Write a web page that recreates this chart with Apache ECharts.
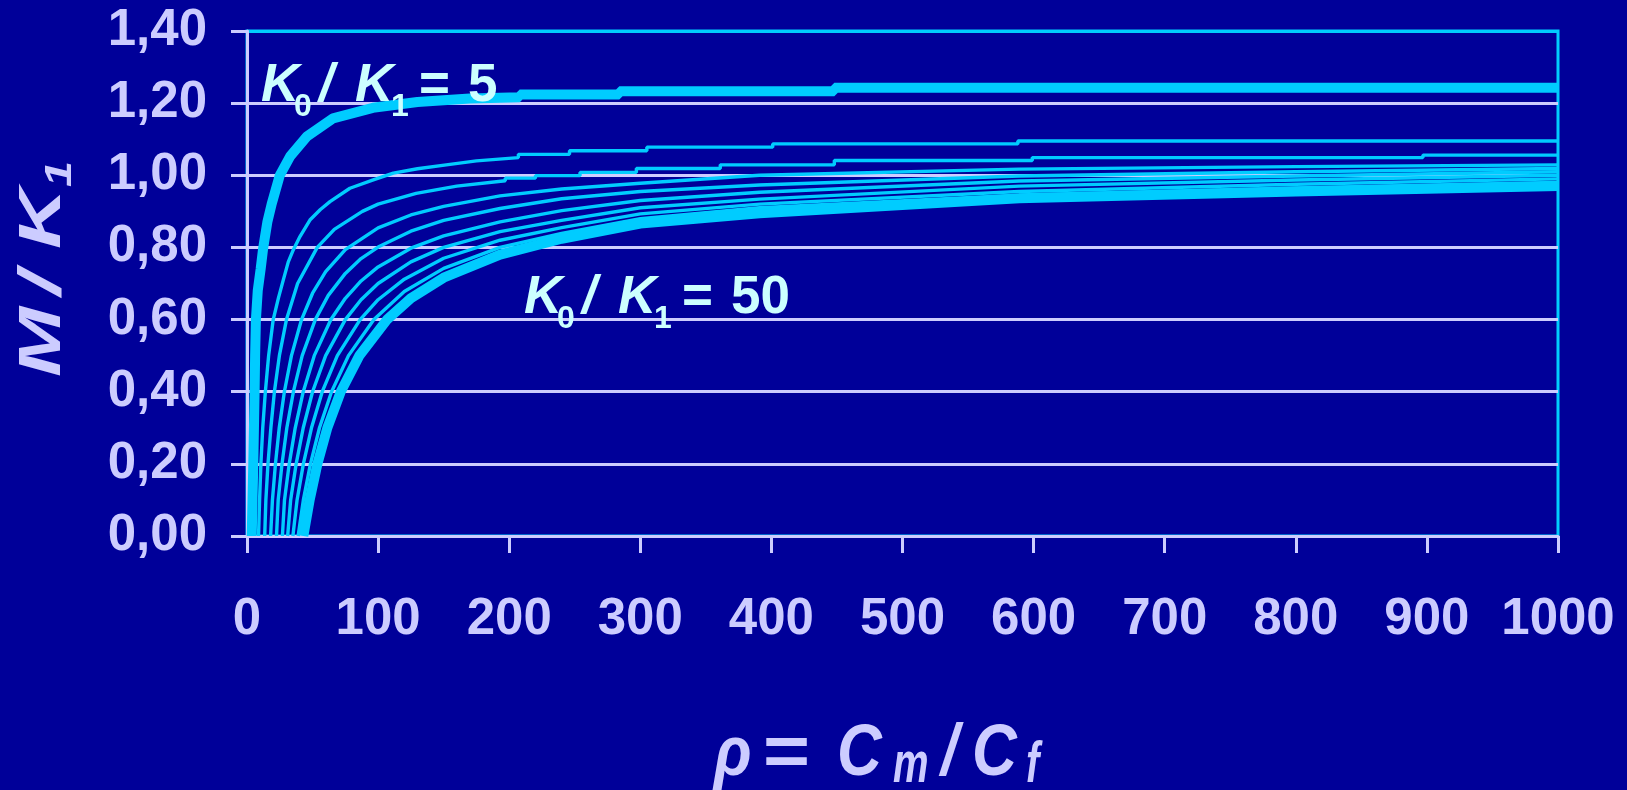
<!DOCTYPE html>
<html>
<head>
<meta charset="utf-8">
<script src="https://cdn.jsdelivr.net/npm/echarts@6/dist/echarts.min.js"></script>
<style>
  html, body { margin: 0; padding: 0; background: #000099; }
  #chart { width: 1627px; height: 790px; }
</style>
</head>
<body>
<div id="chart"></div>
<script>
// ---- data: [rho, M/K1] ----
const ratioLabels = ['5', '10', '15', '20', '25', '30', '35', '40', '45', '50'];

const curveK5 = [[3.6,0],[4.2,0.1],[4.8,0.2],[5.3,0.3],[5.8,0.4],[6.2,0.5],[6.8,0.6],[8.2,0.68],[10.4,0.74],[12.4,0.8],[15.5,0.87],[18.8,0.92],[25,1.0],[32.8,1.052],[45.5,1.107],[65.6,1.158],[96,1.187],[130,1.203],[170,1.213],[208,1.216],[208,1.224],[284,1.224],[284,1.233],[448,1.233],[448,1.243],[1000,1.243]];
const curveK10 = [[8.8,0],[9.6,0.1],[10.6,0.2],[12,0.3],[14,0.4],[16.5,0.5],[20,0.6],[24,0.66],[27.7,0.71],[31.5,0.76],[35.3,0.793],[40.4,0.83],[48,0.876],[56,0.905],[63.3,0.927],[78.5,0.964],[96.3,0.987],[111.6,1.006],[130,1.018],[152,1.029],[175,1.04],[207,1.049],[207,1.058],[246,1.058],[246,1.068],[305,1.068],[305,1.078],[401,1.078],[401,1.087],[588,1.087],[588,1.095],[1000,1.095]];
const curveK15 = [[13.5,0],[14.4,0.1],[16,0.2],[18.2,0.3],[20.9,0.4],[24.7,0.5],[30.1,0.6],[38.6,0.7],[53.6,0.8],[66.6,0.85],[88,0.9],[100,0.92],[129,0.95],[160,0.97],[197,0.985],[197,0.992],[220,0.992],[220,0.999],[254,0.999],[254,1.008],[297,1.008],[297,1.019],[361,1.019],[361,1.029],[448,1.029],[448,1.041],[599,1.041],[599,1.049],[897,1.049],[897,1.056],[1000,1.056]];
const curveK20 = [[18,0],[19.4,0.1],[21.7,0.2],[24.6,0.3],[28.5,0.4],[33.9,0.5],[41.6,0.6],[50,0.673],[60,0.733],[75,0.794],[100,0.854],[125,0.89],[150,0.914],[193,0.943],[240,0.962],[300,0.978],[391,1.0],[589,1.017],[800,1.024],[1000,1.029]];
const curveK25 = [[22.5,0],[23.8,0.1],[26.7,0.2],[30.4,0.3],[35.4,0.4],[42.1,0.5],[52.1,0.6],[62,0.667],[75,0.728],[87,0.769],[100,0.801],[125,0.845],[150,0.875],[193,0.908],[240,0.935],[300,0.955],[391,0.973],[589,0.998],[800,1.01],[1000,1.019]];
const curveK30 = [[27,0],[28.6,0.1],[32.2,0.2],[36.8,0.3],[42.9,0.4],[51.3,0.5],[64,0.6],[75,0.659],[87,0.707],[100,0.746],[125,0.798],[150,0.832],[193,0.871],[240,0.902],[300,0.93],[391,0.953],[589,0.984],[800,0.998],[1000,1.01]];
const curveK35 = [[31,0],[33.3,0.1],[37.5,0.2],[42.9,0.3],[50,0.4],[60,0.5],[75,0.6],[87,0.655],[100,0.7],[125,0.76],[150,0.8],[193,0.844],[240,0.875],[300,0.91],[391,0.934],[589,0.97],[800,0.987],[1000,1.0]];
const curveK40 = [[35,0],[38.2,0.1],[43,0.2],[49.2,0.3],[57.4,0.4],[68.9,0.5],[86.3,0.6],[100,0.655],[120,0.712],[150,0.77],[193,0.82],[240,0.855],[300,0.893],[391,0.92],[589,0.955],[800,0.975],[1000,0.99]];
const curveK45 = [[39,0],[43,0.1],[48.4,0.2],[55.3,0.3],[64.5,0.4],[77.4,0.5],[96.8,0.6],[120,0.678],[150,0.742],[193,0.8],[240,0.839],[300,0.88],[391,0.91],[589,0.945],[800,0.965],[1000,0.98]];
const curveK50 = [[43,0],[47.8,0.1],[53.7,0.2],[61.3,0.3],[71.5,0.4],[85.7,0.5],[106.9,0.6],[125,0.659],[150,0.716],[193,0.78],[240,0.824],[300,0.866],[391,0.895],[589,0.936],[800,0.955],[1000,0.97]];

const xTickLabels = ['0', '100', '200', '300', '400', '500', '600', '700', '800', '900', '1000'];
const yTickLabels = ['0,00', '0,20', '0,40', '0,60', '0,80', '1,00', '1,20', '1,40'];

// ---- presentation ----
const curves = [curveK5, curveK10, curveK15, curveK20, curveK25, curveK30, curveK35, curveK40, curveK45, curveK50];
const thick = { '5': 10, '50': 10 };
const LAV = '#CCCCFF', CYAN = '#00CCFF', PALE = '#CCFFFF';
const FONT = 'Liberation Sans';

// text made of pieces (for subscripts); x = offset along the text, dy = baseline shift
function textGroup(pieces, gx, gy, rotation, color) {
  return {
    type: 'group', x: gx, y: gy, rotation: rotation || 0, z: 10,
    children: pieces.map(p => ({
      type: 'text', x: p.x, y: p.dy || 0, scaleX: p.sx || 1, scaleY: p.sy || 1, z: 10,
      style: {
        text: p.t, x: 0, y: -0.3465 * p.size,
        fill: color,
        font: (p.it ? 'italic ' : '') + 'bold ' + p.size + 'px "' + FONT + '"',
        align: 'left', verticalAlign: 'middle', textAlign: 'left', textVerticalAlign: 'middle'
      }
    }))
  };
}

function ratioNote(value) {
  return [
    { t: 'K', x: 0, size: 53, it: true },
    { t: '0', x: 33, size: 32, dy: 13 },
    { t: '/', x: 58, size: 53, it: true },
    { t: 'K', x: 94, size: 53, it: true },
    { t: '1', x: 130, size: 32, dy: 13 },
    { t: '=', x: 158, size: 53 },
    { t: value, x: 207, size: 53 }
  ];
}

const xTitle = [
  { t: 'ρ', x: -2, size: 62, it: true, sy: 1.15 },
  { t: '=', x: 47, size: 62, sx: 1.3, sy: 1.15 },
  { t: 'C', x: 121, size: 62, it: true, sy: 1.15 },
  { t: 'm', x: 177, size: 40, it: true, sy: 1.45, dy: 6 },
  { t: '/', x: 225, size: 62, it: true, sy: 1.15 },
  { t: 'C', x: 256, size: 62, it: true, sy: 1.15 },
  { t: 'f', x: 310, size: 40, it: true, sy: 1.45, dy: 6 }
];

const yTitle = [
  { t: 'M', x: 0, size: 60, it: true, sx: 1.4 },
  { t: '/', x: 82, size: 60, it: true, sx: 1.4 },
  { t: 'K', x: 128, size: 60, it: true, sx: 1.4 },
  { t: '1', x: 190, size: 36, it: true, sx: 1.3, dy: 10 }
];

const chart = echarts.init(document.getElementById('chart'), null, { renderer: 'canvas' });

const series = curves.map((d, i) => ({
  name: 'K0/K1 = ' + ratioLabels[i],
  type: 'line',
  data: d,
  showSymbol: false,
  symbol: 'none',
  smooth: false,
  lineStyle: { color: CYAN, width: thick[ratioLabels[i]] || 3.4 },
  itemStyle: { color: CYAN },
  z: 3
}));

const splitColors = yTickLabels.map((t, i) => i === yTickLabels.length - 1 ? CYAN : LAV);

const option = {
  backgroundColor: '#000099',
  animation: false,
  grid: {
    left: 247, right: 69, top: 31, bottom: 254,
    show: true, backgroundColor: 'transparent',
    borderColor: CYAN, borderWidth: 3
  },
  xAxis: {
    type: 'value', min: 0, max: 1000, interval: 100,
    axisLine: { show: true, onZero: false, lineStyle: { color: LAV, width: 3 } },
    axisTick: { show: true, inside: false, length: 17, lineStyle: { color: LAV, width: 3 } },
    splitLine: { show: false },
    axisLabel: {
      color: LAV, fontFamily: FONT, fontWeight: 'bold', fontSize: 51, margin: 58,
      formatter: (v) => xTickLabels[Math.round(v / 100)]
    }
  },
  yAxis: {
    type: 'value', min: 0, max: 1.4, interval: 0.2,
    axisLine: { show: true, lineStyle: { color: LAV, width: 3 } },
    axisTick: { show: true, inside: false, length: 16, lineStyle: { color: LAV, width: 3 } },
    splitLine: { show: true, lineStyle: { color: splitColors, width: 3 } },
    axisLabel: {
      color: LAV, fontFamily: FONT, fontWeight: 'bold', fontSize: 51, margin: 40,
      formatter: (v) => yTickLabels[Math.round(v / 0.2)]
    }
  },
  graphic: [
    textGroup(ratioNote('5'), 261, 105, 0, PALE),
    textGroup(ratioNote('50'), 524, 317, 0, PALE),
    textGroup(xTitle, 716, 780, 0, LAV),
    textGroup(yTitle, 64, 377, Math.PI / 2, LAV)
  ],
  series: series
};

chart.setOption(option);
</script>
</body>
</html>
